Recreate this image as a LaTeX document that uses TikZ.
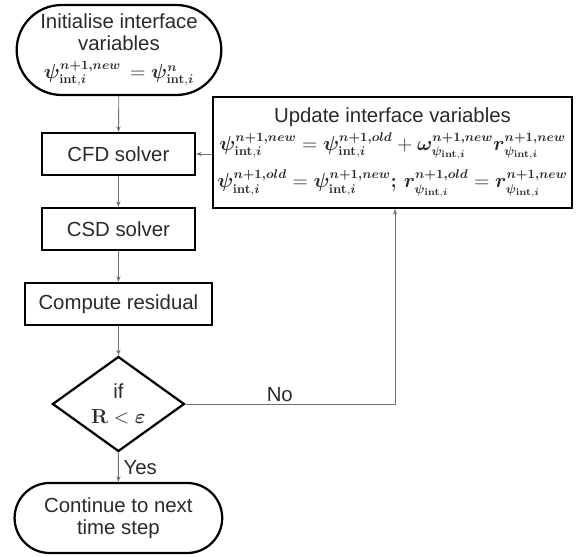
\documentclass[tikz,border=0pt]{standalone}
\usepackage{amsmath}
\usepackage{bm}
\usepackage[no-math]{fontspec}
\setmainfont{Liberation Sans}
\usetikzlibrary{shapes.geometric,shapes.misc,arrows.meta}

\definecolor{linegray}{HTML}{707070}
\definecolor{textgray}{HTML}{2A2A2A}

% psi avec indice int,i
\newcommand{\psiint}[1]{\bm{\psi}^{\bm{#1}}_{\mathbf{int},\bm{i}}}
\newcommand{\subpsi}{\bm{\psi}_{\mathbf{int},\bm{i}}}
\newcommand{\eqsize}{\fontsize{13.5}{15}\selectfont}

\tikzset{
  terminal/.style={rounded rectangle, draw, line width=1.6pt, align=center, text=textgray, font=\fontsize{14.5}{16}\selectfont},
  process/.style={rectangle, draw, line width=1.6pt, align=center, text=textgray, font=\fontsize{14.5}{16}\selectfont},
  decision/.style={diamond, draw, line width=1.6pt, align=center, inner sep=0pt, text=textgray, font=\fontsize{14.5}{16}\selectfont},
  link/.style={-{Stealth[length=4pt,width=3pt]}, draw=linegray, line width=0.6pt},
}

\begin{document}
\begin{tikzpicture}
    \useasboundingbox (0,0) rectangle (14.4,-13.925);

    % Les blocs du schéma
    \node[terminal, minimum width=5.35cm, minimum height=2.25cm] (init) at (2.975,-1.25)
        {Initialise interface\\variables\\[4pt] {\eqsize$\psiint{n+1,new}\,=\psiint{n}$}};
    \node[process, minimum width=3.825cm, minimum height=1.05cm] (cfd) at (2.96,-3.85) {CFD solver};
    \node[process, minimum width=3.825cm, minimum height=1.05cm] (csd) at (2.96,-5.725) {CSD solver};
    \node[process, minimum width=4.675cm, minimum height=1.05cm] (resid) at (2.96,-7.6) {Compute residual};
    \node[decision, minimum width=3.3cm, minimum height=2.3cm] (test) at (2.96,-10.1)
        {if\\[2pt]$\mathbf{R<\bm{\varepsilon}}$};
    \node[terminal, minimum width=5.425cm, minimum height=1.75cm] (stop) at (2.96,-12.95)
        {Continue to next\\time step};

    % Mise a jour des variables
    \node[process, minimum width=8.975cm, minimum height=2.775cm, inner sep=2pt] (update) at (9.8125,-3.8125)
        {Update interface variables\\[4pt]
         {\eqsize$\psiint{n+1,new}=\psiint{n+1,old}+\bm{\omega}^{\bm{n+1,new}}_{\subpsi}\bm{r}^{\bm{n+1,new}}_{\subpsi}$}\\[6pt]
         {\eqsize$\psiint{n+1,old}=\psiint{n+1,new}\bm{;}\,\bm{r}^{\bm{n+1,old}}_{\subpsi}=\bm{r}^{\bm{n+1,new}}_{\subpsi}$}};

    \coordinate (corner) at (9.875,-10.1);

    % Les fleches
    \draw[link] (init) -- (cfd);
    \draw[link] (cfd) -- (csd);
    \draw[link] (csd) -- (resid);
    \draw[link] (resid) -- (test);
    \draw[link] (test) -- node[right, text=textgray, font=\fontsize{14.5}{16}\selectfont] {Yes} (stop);
    \draw[link] (update.west |- cfd) -- (cfd);
    \draw[link] (test.east) -- node[above, pos=0.45, inner sep=1pt, text=textgray, font=\fontsize{14.5}{16}\selectfont] {No} (corner) -- (corner |- update.south);
\end{tikzpicture}
\end{document}
